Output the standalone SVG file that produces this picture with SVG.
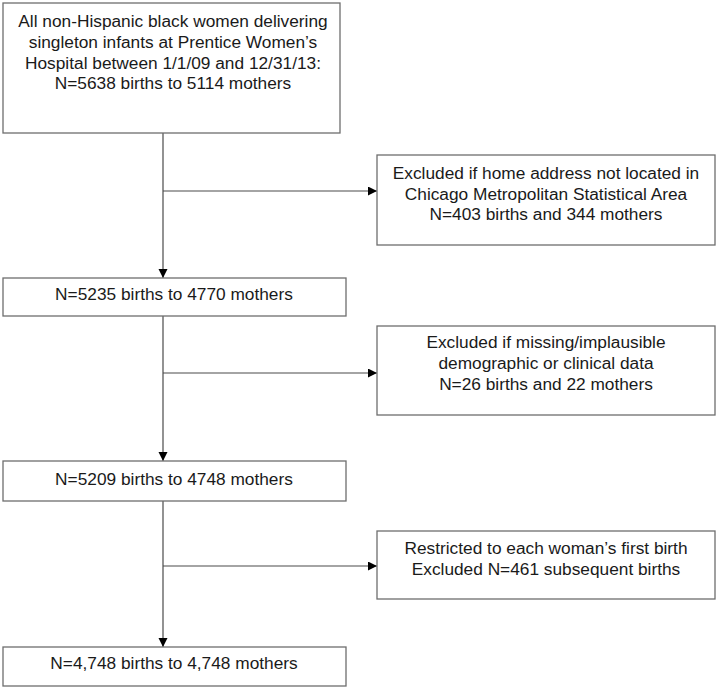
<svg xmlns="http://www.w3.org/2000/svg" width="717" height="688" viewBox="0 0 717 688">
<style>
  .box { fill: #ffffff; stroke: #6e6e6e; stroke-width: 1.3; }
  .lbl { font-family: "Liberation Sans", Arial, sans-serif; font-size: 17.3px; fill: #1a1a1a; text-anchor: middle; }
  .conn { stroke: #4a4a4a; stroke-width: 1.2; fill: none; }
</style>
<defs>
  <marker id="arr" markerWidth="10" markerHeight="10" refX="9" refY="4.5" orient="auto" markerUnits="userSpaceOnUse">
    <path d="M0,0 L9,4.5 L0,9 Z" fill="#000000"/>
  </marker>
</defs>
<rect width="717" height="688" fill="#ffffff"/>
<g id="connectors">
  <line class="conn" x1="163" y1="133" x2="163" y2="278" marker-end="url(#arr)"/>
  <line class="conn" x1="163" y1="191" x2="377" y2="191" marker-end="url(#arr)"/>
  <line class="conn" x1="163" y1="316" x2="163" y2="461" marker-end="url(#arr)"/>
  <line class="conn" x1="163" y1="373" x2="377" y2="373" marker-end="url(#arr)"/>
  <line class="conn" x1="163" y1="501" x2="163" y2="647" marker-end="url(#arr)"/>
  <line class="conn" x1="163" y1="566" x2="377" y2="566" marker-end="url(#arr)"/>
</g>
<g id="n1">
  <rect class="box" x="3" y="3" width="337" height="130"/>
  <text class="lbl" x="173" y="27">All non-Hispanic black women delivering</text>
  <text class="lbl" x="173" y="48">singleton infants at Prentice Women’s</text>
  <text class="lbl" x="173" y="69">Hospital between 1/1/09 and 12/31/13:</text>
  <text class="lbl" x="173" y="89">N=5638 births to 5114 mothers</text>
</g>
<g id="n2">
  <rect class="box" x="377" y="155" width="338" height="90"/>
  <text class="lbl" x="546" y="179">Excluded if home address not located in</text>
  <text class="lbl" x="546" y="199.5">Chicago Metropolitan Statistical Area</text>
  <text class="lbl" x="546" y="220">N=403 births and 344 mothers</text>
</g>
<g id="n3">
  <rect class="box" x="3" y="278" width="343" height="38"/>
  <text class="lbl" x="174" y="300">N=5235 births to 4770 mothers</text>
</g>
<g id="n4">
  <rect class="box" x="377" y="326" width="338" height="89"/>
  <text class="lbl" x="546" y="348">Excluded if missing/implausible</text>
  <text class="lbl" x="546" y="369">demographic or clinical data</text>
  <text class="lbl" x="546" y="390">N=26 births and 22 mothers</text>
</g>
<g id="n5">
  <rect class="box" x="3" y="461" width="343" height="40"/>
  <text class="lbl" x="174" y="485">N=5209 births to 4748 mothers</text>
</g>
<g id="n6">
  <rect class="box" x="377" y="531" width="338" height="68"/>
  <text class="lbl" x="546" y="554">Restricted to each woman’s first birth</text>
  <text class="lbl" x="546" y="575">Excluded N=461 subsequent births</text>
</g>
<g id="n7">
  <rect class="box" x="3" y="647" width="343" height="39"/>
  <text class="lbl" x="174" y="669">N=4,748 births to 4,748 mothers</text>
</g>
</svg>
